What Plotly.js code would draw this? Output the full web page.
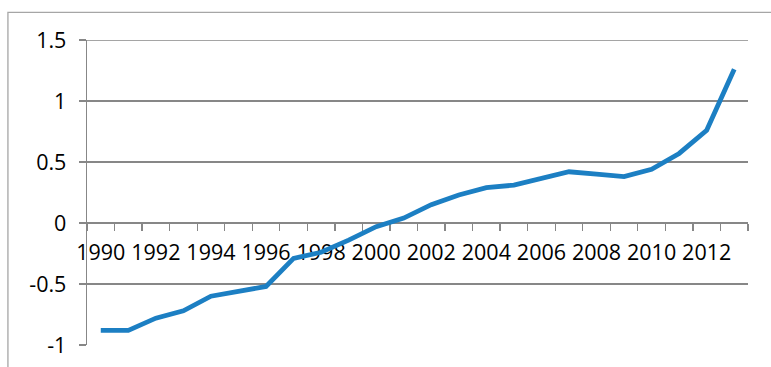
<!DOCTYPE html>
<html>
<head>
<meta charset="utf-8">
<script src="https://cdn.plot.ly/plotly-3.0.1.min.js"></script>
<style>
  html, body { margin: 0; padding: 0; background: #ffffff; }
  #chart { width: 771px; height: 367px; }
</style>
</head>
<body>
<div id="chart"></div>
<script>
// Annual series, 1990-2013
const years = [1990, 1991, 1992, 1993, 1994, 1995, 1996, 1997, 1998, 1999, 2000, 2001,
               2002, 2003, 2004, 2005, 2006, 2007, 2008, 2009, 2010, 2011, 2012, 2013];
const values = [-0.88, -0.88, -0.78, -0.72, -0.60, -0.56, -0.52, -0.29, -0.24, -0.14, -0.03, 0.04,
                0.15, 0.23, 0.29, 0.31, 0.37, 0.42, 0.40, 0.38, 0.44, 0.57, 0.76, 1.26];

// Axis labels
const xTickYears = [1990, 1992, 1994, 1996, 1998, 2000, 2002, 2004, 2006, 2008, 2010, 2012];
const xTickLabels = ['1990', '1992', '1994', '1996', '1998', '2000', '2002', '2004', '2006', '2008', '2010', '2012'];
const yTickValues = [-1, -0.5, 0, 0.5, 1, 1.5];
const yTickLabels = ['-1', '-0.5', '0', '0.5', '1', '1.5'];

const W = 771, H = 367;
const yMin = -1, yMax = 1.5;
const margin = { l: 87.3, r: 23.3, t: 40, b: 21.7 };
const plotW = W - margin.l - margin.r;
const plotH = H - margin.t - margin.b;
const gridGray = '#878787';
const fontSpec = { family: 'Open Sans, Noto Sans, sans-serif', size: 21.5, color: '#000000' };

// Outer chart frame (left and top edges visible, the rest runs off the page)
const frame = {
  type: 'rect', xref: 'paper', yref: 'paper', layer: 'below',
  x0: (8.3 - margin.l) / plotW, x1: 2,
  y0: -1, y1: 1 + (margin.t - 12.3) / plotH,
  line: { color: '#a6a6a6', width: 1.3 }, fillcolor: 'rgba(0,0,0,0)'
};

// Top gridline at the axis maximum (Plotly skips the grid line on the plot edge)
const topGrid = {
  type: 'line', xref: 'paper', yref: 'y', layer: 'below',
  x0: 0, x1: 1, y0: yMax, y1: yMax,
  line: { color: gridGray, width: 1.3 }
};

const trace = {
  x: years, y: values, type: 'scatter', mode: 'lines',
  line: { color: '#1c7fc3', width: 4.8 },
  hoverinfo: 'skip'
};

const layout = {
  width: W, height: H, margin: margin,
  paper_bgcolor: '#ffffff', plot_bgcolor: '#ffffff',
  showlegend: false, font: fontSpec,
  shapes: [frame, topGrid],
  xaxis: {
    type: 'linear', range: [1989.5, 2013.5], fixedrange: true,
    anchor: 'free', position: (0 - yMin) / (yMax - yMin), layer: 'below traces',
    showline: true, linecolor: gridGray, linewidth: 1.3,
    showgrid: false, zeroline: false,
    tickmode: 'array', tickvals: xTickYears, ticktext: xTickLabels,
    ticks: '', ticklabelstandoff: 10, tickfont: fontSpec,
    minor: { ticks: 'outside', ticklen: 7, tickwidth: 1.3, tickcolor: gridGray,
             tick0: 1989.5, dtick: 1, showgrid: false }
  },
  yaxis: {
    range: [yMin, yMax], fixedrange: true, layer: 'below traces',
    showline: true, linecolor: gridGray, linewidth: 1.3,
    showgrid: true, gridcolor: gridGray, gridwidth: 1.3, zeroline: false,
    tickmode: 'array', tickvals: yTickValues, ticktext: yTickLabels,
    ticks: 'outside', ticklen: 7, tickwidth: 1.3, tickcolor: gridGray,
    ticklabelstandoff: 8, tickfont: fontSpec
  }
};

Plotly.newPlot('chart', [trace], layout, { displayModeBar: false, staticPlot: true });
</script>
</body>
</html>
